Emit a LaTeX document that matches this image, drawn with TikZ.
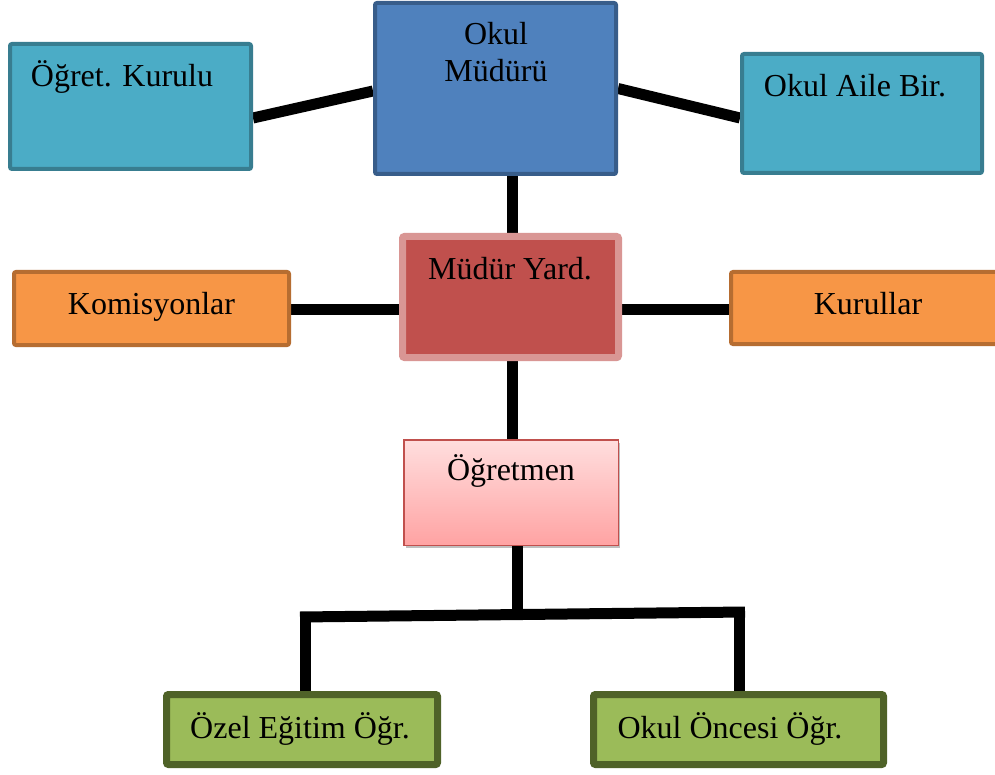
\documentclass[tikz,border=0pt]{standalone}
\usepackage{fontspec}
\setmainfont{Liberation Serif}
\usetikzlibrary{shadows,backgrounds}
\definecolor{mudFill}{HTML}{4F81BD}
\definecolor{mudDraw}{HTML}{385D8A}
\definecolor{aquaFill}{HTML}{4BACC6}
\definecolor{aquaDraw}{HTML}{387D90}
\definecolor{yardFill}{HTML}{C0504D}
\definecolor{yardDraw}{HTML}{D99694}
\definecolor{orFill}{HTML}{F79646}
\definecolor{orDraw}{HTML}{B66D31}
\definecolor{ogrTop}{HTML}{FFDEDE}
\definecolor{ogrBot}{HTML}{FFA3A3}
\definecolor{ogrDraw}{HTML}{C0504D}
\definecolor{grFill}{HTML}{9BBB59}
\definecolor{grDraw}{HTML}{4F6228}
\tikzset{
  box/.style={rectangle, inner sep=0pt, rounded corners=2pt},
  shad/.style={drop shadow={shadow xshift=2pt, shadow yshift=-3pt, opacity=0.25, fill=black}},
  txt/.style={anchor=base, inner sep=0pt, font=\fontsize{32}{37}\selectfont},
  conn/.style={line width=11pt, black}
}
\begin{document}
\begin{tikzpicture}[x=1pt,y=-1pt]
\clip (0,0) rectangle (995,775);
% boxes
\node[box, fill=mudFill, draw=mudDraw, line width=4pt, minimum width=241pt, minimum height=171pt] (mud) at (495.5,88.5) {};
\node[box, fill=aquaFill, draw=aquaDraw, line width=4pt, minimum width=241pt, minimum height=125pt] (kur) at (130.5,106.5) {};
\node[box, fill=aquaFill, draw=aquaDraw, line width=4pt, minimum width=240pt, minimum height=119pt] (aile) at (862,113.5) {};
\node[box, shad, fill=yardFill, draw=yardDraw, line width=7pt, minimum width=216pt, minimum height=121pt] (yard) at (510.5,297) {};
\node[box, fill=orFill, draw=orDraw, line width=4pt, minimum width=275pt, minimum height=73pt] (kom) at (151.5,308.5) {};
\node[box, fill=orFill, draw=orDraw, line width=4pt, minimum width=267pt, minimum height=72pt] (kurl) at (864.5,308) {};
\node[rectangle, inner sep=0pt, shad, top color=ogrTop, bottom color=ogrBot, draw=ogrDraw, line width=1.5pt, minimum width=214.5pt, minimum height=105.5pt] (ogr) at (511,492.5) {};
\node[box, shad, fill=grFill, draw=grDraw, line width=7pt, minimum width=271pt, minimum height=70pt] (oz) at (302,729.5) {};
\node[box, shad, fill=grFill, draw=grDraw, line width=7pt, minimum width=290pt, minimum height=70pt] (onc) at (738.5,729.5) {};
% texts
\node[txt] (tkur) at (122,87) {Öğret. Kurulu};
\node[txt] (tmud1) at (496,45) {Okul};
\node[txt] (tmud2) at (496,82) {Müdürü};
\node[txt] (taile) at (855,97) {Okul Aile Bir.};
\node[txt] (tyard) at (510,280) {Müdür Yard.};
\node[txt] (tkom) at (151.5,315) {Komisyonlar};
\node[txt] (tkurl) at (868,315) {Kurullar};
\node[txt] (togr) at (511,480) {Öğretmen};
\node[txt] (toz) at (300,738) {Özel Eğitim Öğr.};
\node[txt] (tonc) at (730,738) {Okul Öncesi Öğr.};
% connector points
\coordinate (bl) at (300,617);
\coordinate (br) at (745,612);
\coordinate (bj) at (517.5,614.5);
\coordinate (vl) at (305,616.8);
\coordinate (vr) at (739,612.2);
\begin{pgfonlayer}{background}
\fill[white] (0,0) rectangle (995,775);
\draw[conn] ([yshift=-11.5pt]kur.east) -- ([yshift=-2.5pt]mud.west);
\draw[conn] (mud.east) -- ([yshift=-4.5pt]aile.west);
\draw[conn] ([xshift=17pt]mud.south) -- ([xshift=2pt]yard.north);
\draw[conn] ([yshift=-1.5pt]kom.east) -- ([yshift=-13pt]yard.west);
\draw[conn] ([yshift=-13pt]yard.east) -- ([yshift=-2pt]kurl.west);
\draw[conn] ([xshift=2pt]yard.south) -- ([xshift=1.5pt]ogr.north);
\draw[conn] ([xshift=6.5pt]ogr.south) -- (bj);
\draw[conn] (bl) -- (br);
\draw[conn] (vl) -- ([xshift=3pt]oz.north);
\draw[conn] (vr) -- ([xshift=0.5pt]onc.north);
\end{pgfonlayer}
\end{tikzpicture}
\end{document}
